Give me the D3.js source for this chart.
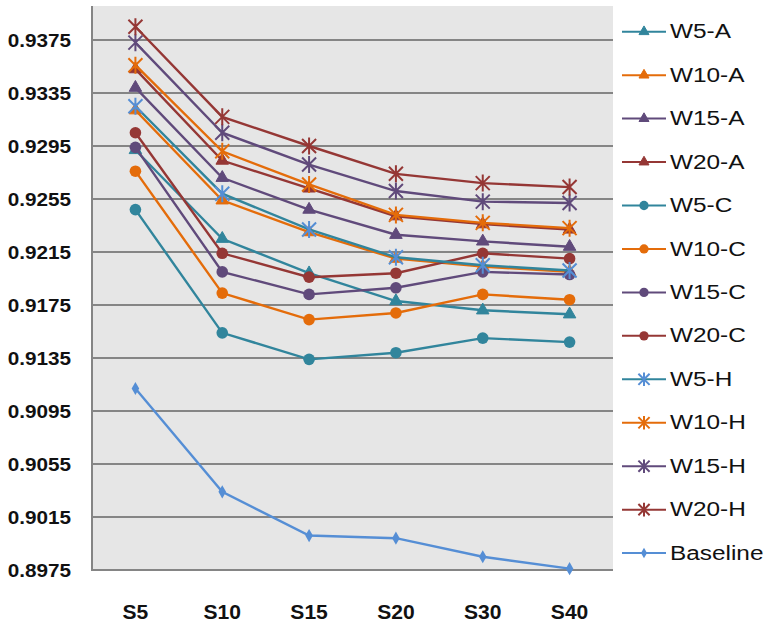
<!DOCTYPE html>
<html>
<head>
<meta charset="utf-8">
<script src="https://cdn.jsdelivr.net/npm/d3@7"></script>
<style>
  html, body { margin: 0; padding: 0; background: #ffffff; }
  svg { display: block; }
  text { font-family: "Liberation Sans", Arial, sans-serif; fill: #111; }
</style>
</head>
<body>
<svg id="chart" width="768" height="626"></svg>
<script>
// Categories along the x axis
const categories = ["S5", "S10", "S15", "S20", "S30", "S40"];

// Y axis tick labels
const yTicks = [0.8975, 0.9015, 0.9055, 0.9095, 0.9135, 0.9175, 0.9215, 0.9255, 0.9295, 0.9335, 0.9375];

// Series values
const W5A  = [0.9292, 0.9225, 0.9199, 0.9178, 0.9171, 0.9168];
const W10A = [0.9322, 0.9254, 0.9230, 0.9210, 0.9204, 0.9200];
const W15A = [0.9339, 0.9271, 0.9247, 0.9228, 0.9223, 0.9219];
const W20A = [0.9353, 0.9284, 0.9263, 0.9242, 0.9236, 0.9232];
const W5C  = [0.9247, 0.9154, 0.9134, 0.9139, 0.9150, 0.9147];
const W10C = [0.9276, 0.9184, 0.9164, 0.9169, 0.9183, 0.9179];
const W15C = [0.9294, 0.9200, 0.9183, 0.9188, 0.9200, 0.9198];
const W20C = [0.9305, 0.9214, 0.9196, 0.9199, 0.9214, 0.9210];
const W5H  = [0.9325, 0.9259, 0.9232, 0.9211, 0.9205, 0.9201];
const W10H = [0.9356, 0.9291, 0.9266, 0.9243, 0.9237, 0.9233];
const W15H = [0.9373, 0.9305, 0.9281, 0.9261, 0.9253, 0.9252];
const W20H = [0.9385, 0.9317, 0.9295, 0.9274, 0.9267, 0.9264];
const Baseline = [0.9112, 0.9034, 0.9001, 0.8999, 0.8985, 0.8976];

const seriesNames = ["W5-A", "W10-A", "W15-A", "W20-A", "W5-C", "W10-C", "W15-C", "W20-C",
                     "W5-H", "W10-H", "W15-H", "W20-H", "Baseline"];
const seriesValues = [W5A, W10A, W15A, W20A, W5C, W10C, W15C, W20C, W5H, W10H, W15H, W20H, Baseline];

// Styling per series
const teal = "#31859c", orange = "#e46c0a", purple = "#604a7b", red = "#953735", blue = "#558ed5";
const lineColors   = [teal, orange, purple, red, teal, orange, purple, red, teal, orange, purple, red, blue];
const markerColors = [teal, orange, purple, red, teal, orange, purple, red, blue, orange, purple, red, blue];
const markerTypes  = ["tri","tri","tri","tri","circ","circ","circ","circ","star","star","star","star","dia"];

const series = seriesNames.map((name, i) => ({
  name, values: seriesValues[i], line: lineColors[i], marker: markerColors[i], type: markerTypes[i]
}));

const svg = d3.select("#chart");

const plot = { left: 92, right: 613, top: 6, bottom: 570 };

const x = d3.scalePoint().domain(categories).range([plot.left, plot.right]).padding(0.5);
const y = d3.scaleLinear().domain([0.8975, 0.9375]).range([570, 40]);

// Plot background
svg.append("rect")
  .attr("x", plot.left).attr("y", plot.top)
  .attr("width", plot.right - plot.left).attr("height", plot.bottom - plot.top)
  .attr("fill", "#e6e6e6");

// Horizontal gridlines
svg.append("g")
  .selectAll("line")
  .data(yTicks.slice(1))
  .join("line")
  .attr("x1", plot.left).attr("x2", plot.right)
  .attr("y1", d => y(d)).attr("y2", d => y(d))
  .attr("stroke", "#858585").attr("stroke-width", 2);

// Axes lines
svg.append("line")
  .attr("x1", plot.left).attr("x2", plot.left)
  .attr("y1", plot.top).attr("y2", plot.bottom)
  .attr("stroke", "#858585").attr("stroke-width", 2);
svg.append("line")
  .attr("x1", plot.left - 1).attr("x2", plot.right)
  .attr("y1", plot.bottom).attr("y2", plot.bottom)
  .attr("stroke", "#858585").attr("stroke-width", 2);

// Y tick labels
svg.append("g")
  .selectAll("text")
  .data(yTicks)
  .join("text")
  .attr("transform", d => `translate(71,${y(d)}) scale(1.12,1)`)
  .attr("text-anchor", "end")
  .attr("dominant-baseline", "central")
  .attr("font-size", 18.5)
  .attr("font-weight", "bold")
  .text(d => d.toFixed(4));

// X tick labels
svg.append("g")
  .selectAll("text")
  .data(categories)
  .join("text")
  .attr("transform", d => `translate(${x(d)},612) scale(1.08,1)`)
  .attr("text-anchor", "middle")
  .attr("dominant-baseline", "central")
  .attr("font-size", 19.5)
  .attr("font-weight", "bold")
  .text(d => d);

// Marker drawing helper
function drawMarker(g, type, color, scale) {
  const s = scale || 1;
  if (type === "tri") {
    g.append("path")
      .attr("d", d3.symbol(d3.symbolTriangle, 68 * s * s)())
      .attr("fill", color).attr("stroke", color).attr("stroke-width", 1);
  } else if (type === "circ") {
    g.append("circle").attr("r", 5.8 * s).attr("fill", color);
  } else if (type === "dia") {
    g.append("path")
      .attr("d", d3.symbol(d3.symbolDiamond, 50 * s * s)())
      .attr("fill", color);
  } else if (type === "star") {
    const a = 7 * s, v = 8.5 * s;
    g.append("path")
      .attr("d", `M${-a},${-a}L${a},${a}M${-a},${a}L${a},${-a}M0,${-v}L0,${v}`)
      .attr("fill", "none").attr("stroke", color).attr("stroke-width", 2);
  }
}

const line = d3.line().x((d, i) => x(categories[i])).y(d => y(d));

// Series lines and markers
series.forEach(s => {
  const g = svg.append("g");
  g.append("path")
    .attr("d", line(s.values))
    .attr("fill", "none")
    .attr("stroke", s.line)
    .attr("stroke-width", 2.4);
  s.values.forEach((v, i) => {
    const m = g.append("g").attr("transform", `translate(${x(categories[i])},${y(v)})`);
    drawMarker(m, s.type, s.marker, 1);
  });
});

// Legend
const legend = svg.append("g");
series.forEach((s, i) => {
  const ly = 31.7 + i * 43.45;
  const row = legend.append("g").attr("transform", `translate(0,${ly})`);
  row.append("line")
    .attr("x1", 622).attr("x2", 666).attr("y1", 0).attr("y2", 0)
    .attr("stroke", s.line).attr("stroke-width", 2);
  const m = row.append("g").attr("transform", "translate(644,0)");
  drawMarker(m, s.type, s.marker, 0.8);
  row.append("text")
    .attr("transform", "translate(670,0) scale(1.25,1)")
    .attr("dominant-baseline", "central")
    .attr("font-size", 19.5)
    .text(s.name);
});
</script>
</body>
</html>
